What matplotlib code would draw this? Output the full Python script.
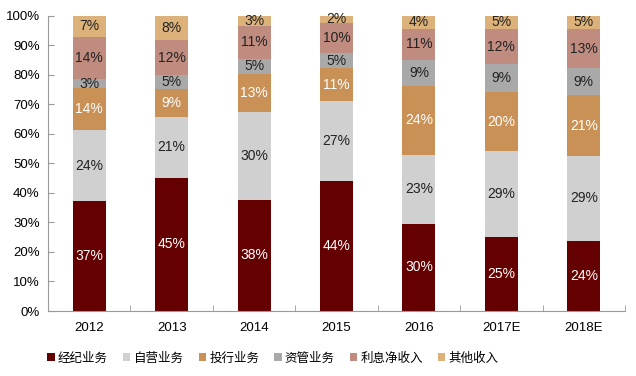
import numpy as np
import matplotlib
matplotlib.use("Agg")
import matplotlib.pyplot as plt

plt.rcParams['font.family'] = ['Liberation Sans', 'Noto Sans CJK SC', 'DejaVu Sans']

years = ["2012", "2013", "2014", "2015", "2016", "2017E", "2018E"]
names = ["经纪业务", "自营业务", "投行业务", "资管业务", "利息净收入", "其他收入"]

# share of revenue (%)
brokerage = [37.1, 45.1, 37.6, 44.0, 29.6, 25.1, 23.8]
proprietary = [24.0, 20.7, 29.9, 26.9, 23.1, 29.0, 28.6]
ibanking = [14.3, 9.2, 12.8, 11.2, 23.6, 20.0, 20.6]
asset_mgmt = [3.0, 4.7, 5.0, 5.3, 8.6, 9.4, 9.3]
net_interest = [14.2, 12.1, 11.3, 10.2, 10.7, 11.8, 13.0]
other = [7.4, 8.2, 3.4, 2.4, 4.4, 4.7, 4.7]

series = [brokerage, proprietary, ibanking, asset_mgmt, net_interest, other]
colors = ["#650000", "#D0D0D0", "#C99155", "#A9A9A9", "#BF8C7F", "#DDB27A"]
text_colors = ["white", "#222222", "white", "#222222", "#222222", "#222222"]

fig = plt.figure(figsize=(6.36, 3.76), dpi=100)
ax = fig.add_axes([48 / 636, 65 / 376, 577 / 636, 295.5 / 376])

x = np.arange(len(years))
bottom = np.zeros(len(years))
for vals, name, col, tcol in zip(series, names, colors, text_colors):
    vals = np.array(vals)
    ax.bar(x, vals, 0.4, bottom=bottom, color=col, label=name)
    for xi, b, v in zip(x, bottom, vals):
        ax.text(xi, b + v / 2, f"{v:.0f}%", ha="center", va="center",
                fontsize=10, color=tcol)
    bottom += vals

ax.set_xlim(-0.5, len(years) - 0.5)
ax.set_ylim(0, 100)
ax.set_yticks(np.arange(0, 101, 10))
ax.set_yticklabels([f"{t}%" for t in range(0, 101, 10)], fontsize=9.5)
ax.set_xticks(x)
ax.set_xticklabels(years, fontsize=9.5)
ax.set_xticks(np.arange(-0.5, len(years), 1), minor=True)
ax.tick_params(axis="x", which="major", length=0, pad=8)
ax.tick_params(axis="x", which="minor", length=4, color="#999999", direction="in")
ax.tick_params(axis="y", length=4, color="#999999", direction="in", pad=6)

for side in ["top", "right"]:
    ax.spines[side].set_visible(False)
for side in ["left", "bottom"]:
    ax.spines[side].set_color("#999999")

leg = fig.legend(loc="center left", bbox_to_anchor=(36 / 636, 1 - 358 / 376), ncol=6,
                 frameon=False, handlelength=0.6, handleheight=0.6,
                 handletextpad=0.25, columnspacing=1.2,
                 prop={"family": ["Noto Sans CJK SC"], "size": 9})

fig.savefig("out.png", dpi=100, facecolor="white")
